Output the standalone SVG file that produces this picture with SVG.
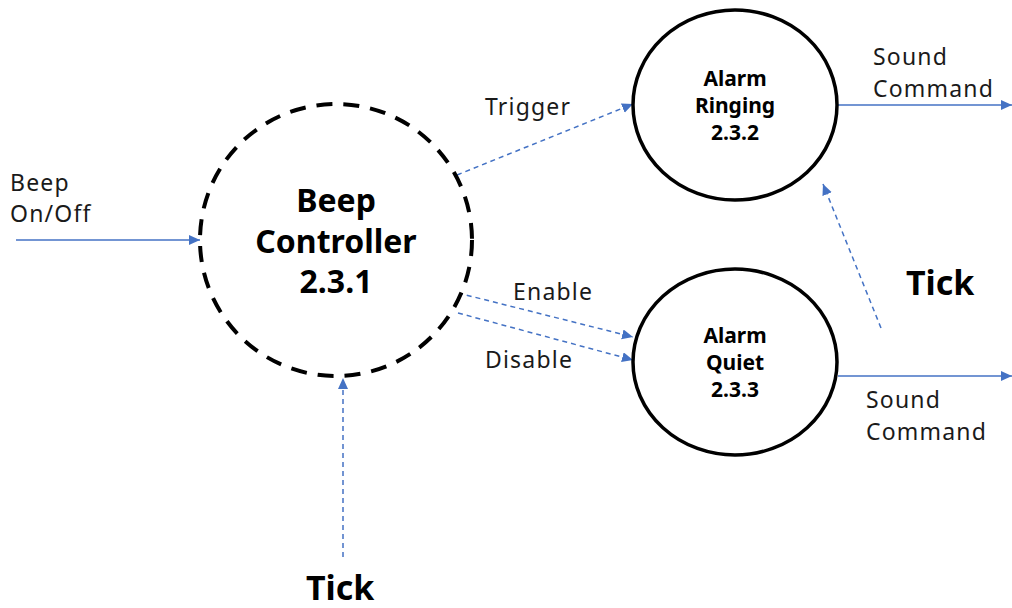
<svg xmlns="http://www.w3.org/2000/svg" width="1012" height="608" viewBox="0 0 1012 608">
<style>
  .lbl { font-family: "Noto Sans", "Liberation Sans", sans-serif; font-size: 23px; fill: #1a1a1a; letter-spacing: 1.2px; }
  .big { font-family: "Noto Sans", "Liberation Sans", sans-serif; font-weight: bold; font-size: 32px; fill: #000; text-anchor: middle; }
  .mid { font-family: "Noto Sans", "Liberation Sans", sans-serif; font-weight: bold; font-size: 21px; fill: #000; text-anchor: middle; }
  .tick { font-family: "Noto Sans", "Liberation Sans", sans-serif; font-weight: bold; font-size: 34px; fill: #000; }
  .flow { stroke: #4472C4; stroke-width: 1.5; fill: none; marker-end: url(#ah); }
  .ctl { stroke: #4472C4; stroke-width: 1.5; fill: none; stroke-dasharray: 5 4; marker-end: url(#ah); }
  .proc { fill: #fff; stroke: #000; stroke-width: 3.5; }
</style>
<defs>
  <marker id="ah" markerUnits="userSpaceOnUse" markerWidth="12" markerHeight="12" refX="11" refY="5" orient="auto">
    <path d="M0,0 L11,5 L0,10 Z" fill="#4472C4"/>
  </marker>
</defs>
<rect width="1012" height="608" fill="#fff"/>
<g id="connectors">
  <line class="flow" x1="16" y1="240" x2="200" y2="240"/>
  <line class="ctl" x1="457" y1="175" x2="633" y2="104"/>
  <line class="ctl" x1="458" y1="293" x2="633" y2="337"/>
  <line class="ctl" x1="458" y1="313" x2="633" y2="360"/>
  <line class="ctl" x1="343" y1="557" x2="343" y2="378"/>
  <line class="ctl" x1="881" y1="328" x2="823" y2="184"/>
  <line class="flow" x1="838" y1="105" x2="1012" y2="105"/>
  <line class="flow" x1="838" y1="376" x2="1012" y2="376"/>
  <text class="lbl" x="10" y="191">Beep</text>
  <text class="lbl" x="10" y="222">On/Off</text>
  <text class="lbl" x="485" y="115">Trigger</text>
  <text class="lbl" x="513" y="300">Enable</text>
  <text class="lbl" x="485" y="368">Disable</text>
  <text class="lbl" x="873" y="65">Sound</text>
  <text class="lbl" x="873" y="97">Command</text>
  <text class="lbl" x="866" y="408">Sound</text>
  <text class="lbl" x="866" y="440">Command</text>
  <text class="tick" x="906" y="295">Tick</text>
  <text class="tick" x="306" y="600">Tick</text>
</g>
<g id="beep-controller">
  <circle cx="336" cy="240" r="136" fill="#fff" stroke="#000" stroke-width="4" stroke-dasharray="16 11"/>
  <text class="big" x="336" y="212">Beep</text>
  <text class="big" x="336" y="253">Controller</text>
  <text class="big" x="336" y="293">2.3.1</text>
</g>
<g id="alarm-ringing">
  <ellipse class="proc" cx="735" cy="105" rx="102" ry="95"/>
  <text class="mid" x="735" y="86">Alarm</text>
  <text class="mid" x="735" y="113">Ringing</text>
  <text class="mid" x="735" y="140">2.3.2</text>
</g>
<g id="alarm-quiet">
  <ellipse class="proc" cx="735" cy="362" rx="102" ry="93"/>
  <text class="mid" x="735" y="343">Alarm</text>
  <text class="mid" x="735" y="370">Quiet</text>
  <text class="mid" x="735" y="397">2.3.3</text>
</g>
</svg>
